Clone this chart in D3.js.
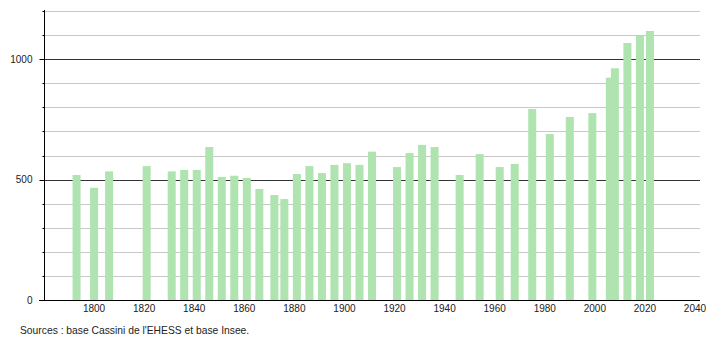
<html>
<script src='https://d3js.org/d3.v7.min.js'></script>
<style>
body {margin:0; background:#fff;}
text {font-family: "Liberation Sans", Arial, sans-serif; font-size:10px; fill:#222;}
</style>
<body>
<svg width=710 height=340></svg>
<script>
// census years and population
const years = [1793,1800,1806,1821,1831,1836,1841,1846,1851,1856,1861,1866,1872,1876,1881,1886,1891,1896,1901,1906,1911,1921,1926,1931,1936,1946,1954,1962,1968,1975,1982,1990,1999,2006,2008,2013,2018,2022];
const pop = [519,466,534,556,534,540,540,635,511,516,507,461,436,419,523,556,527,561,568,561,616,552,610,644,635,519,606,552,565,793,689,760,776,923,962,1067,1099,1117];
const xTicks = [1800,1820,1840,1860,1880,1900,1920,1940,1960,1980,2000,2020,2040];
const yMajor = [0,500,1000];
const yGrid = [100,200,300,400,500,600,700,800,900,1000,1100,1200];
const source = "Sources : base Cassini de l'EHESS et base Insee.";

const svg = d3.select("svg");
const x = d3.scaleLinear().domain([1780,2042]).range([44,700]);
const y = d3.scaleLinear().domain([0,1200]).range([300,11]);

// grid lines
svg.append("g").selectAll("line").data(yGrid).enter().append("line")
  .attr("x1",44).attr("x2",700)
  .attr("y1",d => Math.round(y(d))+0.5).attr("y2",d => Math.round(y(d))+0.5)
  .attr("stroke",d => yMajor.includes(d) ? "#333" : "#c8c8c8")
  .attr("stroke-width",1);

// bars
svg.append("g").selectAll("rect").data(years).enter().append("rect")
  .attr("x",(d) => x(d)-4)
  .attr("width",8)
  .attr("y",(d,i) => y(pop[i]))
  .attr("height",(d,i) => y(0)-y(pop[i]))
  .attr("fill","#afe3af");

// y axis
const yAxis = svg.append("g").attr("transform","translate(44.5,0)");
yAxis.append("line").attr("x1",0).attr("x2",0).attr("y1",10).attr("y2",300).attr("stroke","#000");
yAxis.selectAll("line.minor").data(yGrid.filter(d => !yMajor.includes(d))).enter().append("line")
  .attr("class","minor")
  .attr("x1",-2).attr("x2",0)
  .attr("y1",d => Math.round(y(d))+0.5).attr("y2",d => Math.round(y(d))+0.5)
  .attr("stroke","#000");
yAxis.selectAll("line.major").data(yMajor).enter().append("line")
  .attr("class","major")
  .attr("x1",-5).attr("x2",0)
  .attr("y1",d => Math.round(y(d))+0.5).attr("y2",d => Math.round(y(d))+0.5)
  .attr("stroke","#000");
yAxis.selectAll("text").data(yMajor).enter().append("text")
  .attr("x",-12).attr("y",d => y(d)).attr("dy","0.35em")
  .attr("text-anchor","end")
  .text(d => d);

// x axis
svg.append("line").attr("x1",39).attr("x2",700).attr("y1",300.5).attr("y2",300.5).attr("stroke","#000");
svg.append("g").selectAll("text").data(xTicks).enter().append("text")
  .attr("x",d => x(d)).attr("y",312)
  .attr("text-anchor","middle")
  .text(d => d);

svg.append("text").attr("x",20).attr("y",334).style("font-size","10.3px").text(source);
</script>
</body>
</html>
